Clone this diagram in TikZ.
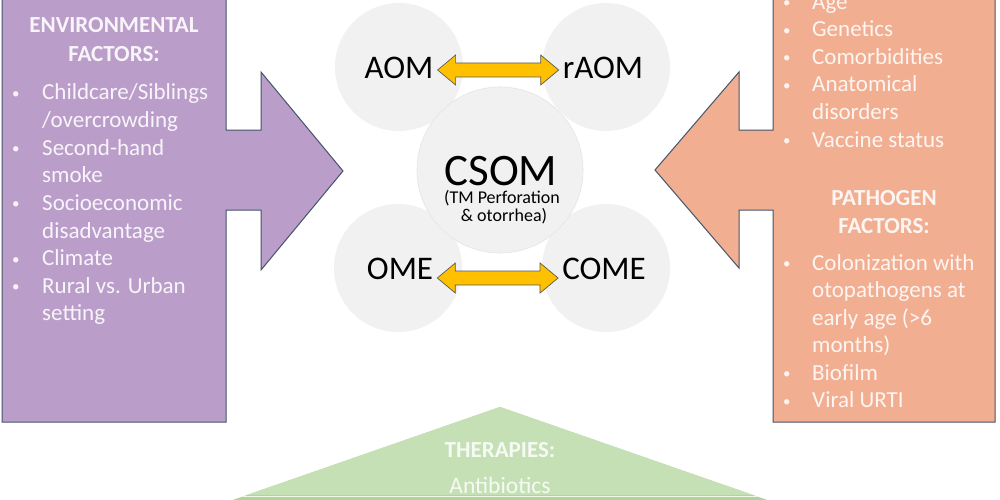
\documentclass[tikz,border=0pt]{standalone}
\usepackage{fontspec}
\setmainfont{Carlito}
\usetikzlibrary{calc}
\definecolor{purp}{RGB}{187,157,202}
\definecolor{salm}{RGB}{242,174,145}
\definecolor{edgec}{RGB}{68,84,106}
\definecolor{circ}{RGB}{241,241,241}
\definecolor{circedge}{RGB}{228,228,228}
\definecolor{gra}{RGB}{197,224,180}
\definecolor{grb}{RGB}{176,212,150}
\definecolor{yel}{RGB}{255,192,0}
\definecolor{arredge}{RGB}{90,90,90}
\newcommand\fatarrow[3]{%
  \draw[yarrow] let \p1=(#1.east), \p2=(#2.west) in
    (\x1+3pt,\y1-#3pt) -- (\x1+21pt,\y1-#3pt+15pt) -- (\x1+21pt,\y1-#3pt+7pt)
    -- (\x2-21pt,\y1-#3pt+7pt) -- (\x2-21pt,\y1-#3pt+15pt) -- (\x2-3pt,\y1-#3pt)
    -- (\x2-21pt,\y1-#3pt-15pt) -- (\x2-21pt,\y1-#3pt-7pt)
    -- (\x1+21pt,\y1-#3pt-7pt) -- (\x1+21pt,\y1-#3pt-15pt) -- cycle;}
\newcommand\bul[1]{\makebox[#1][l]{\raisebox{1.5pt}{\fontsize{15}{15}\selectfont •}}}
\begin{document}
\begin{tikzpicture}[x=1pt,y=-1pt,
  bigshape/.style={draw=edgec, line width=1pt, line join=miter},
  bub/.style={circle, fill=circ, inner sep=0pt, minimum size=128pt},
  lbl/.style={inner sep=1pt, font=\fontsize{33}{36}\selectfont, text=black},
  yarrow/.style={fill=yel, draw=arredge, line width=0.7pt, line join=miter},
  ptxt/.style={anchor=base west, inner sep=0pt, text=white!90!purp, font=\fontsize{23}{28}\selectfont},
  phead/.style={anchor=base, inner sep=0pt, text=white!90!purp, font=\fontsize{23}{28}\selectfont\bfseries},
  otxt/.style={anchor=base west, inner sep=0pt, text=white!88!salm, font=\fontsize{23}{28}\selectfont},
  ohead/.style={anchor=base, inner sep=0pt, text=white!88!salm, font=\fontsize{23}{28}\selectfont\bfseries},
  gtxt/.style={anchor=base, inner sep=0pt, text=white!85!gra, font=\fontsize{23.5}{28}\selectfont},
]
\useasboundingbox (0,0) rectangle (1000,500);
\clip (0,0) rectangle (1000,500);
\fill[white] (0,0) rectangle (1000,500);

% green pyramid
\fill[grb] (500,407) -- (204,510) -- (796,510) -- cycle;
\fill[gra] (500,407) -- (247,495) -- (753,495) -- cycle;
\draw[white, line width=1.6pt, opacity=0.8] (243,496.5) -- (757,496.5);
\node[phead, text=white!85!gra, font=\fontsize{23}{28}\selectfont\bfseries] (ther) at (500,457) {THERAPIES:};
\node[gtxt] (anti) at (500,493) {Antibiotics};

% left purple arrow box
\draw[bigshape, fill=purp] (2,-10) -- (226,-10) -- (226,130) -- (261,130) -- (261,72)
  -- (343,171) -- (261,270) -- (261,210) -- (226,210) -- (226,422) -- (2,422) -- cycle;
% right salmon arrow box
\draw[bigshape, fill=salm] (995,-10) -- (773,-10) -- (773,130) -- (739,130) -- (739,72)
  -- (655,170) -- (739,268) -- (739,210) -- (773,210) -- (773,422) -- (995,422) -- cycle;

% left text
\node[phead] (envA) at (114,33) {ENVIRONMENTAL};
\node[phead] (envB) at (114,62) {FACTORS:};
\node[ptxt] (l1) at (12,100) {\bul{30pt}Childcare/Siblings};
\node[ptxt] (l2) at (42,127.6) {/overcrowding};
\node[ptxt] (l3) at (12,155.2) {\bul{30pt}Second-hand};
\node[ptxt] (l4) at (42,182.8) {smoke};
\node[ptxt] (l5) at (12,210.4) {\bul{30pt}Socioeconomic};
\node[ptxt] (l6) at (42,238) {disadvantage};
\node[ptxt] (l7) at (12,265.6) {\bul{30pt}Climate};
\node[ptxt] (l8) at (12,293.2) {\bul{30pt}Rural vs. Urban};
\node[ptxt] (l9) at (42,320.8) {setting};

% right text
\node[otxt] (r1) at (783,9.5) {\bul{29pt}Age};
\node[otxt] (r2) at (783,37) {\bul{29pt}Genetics};
\node[otxt] (r3) at (783,64.5) {\bul{29pt}Comorbidities};
\node[otxt] (r4) at (783,92) {\bul{29pt}Anatomical};
\node[otxt] (r5) at (812,119.5) {disorders};
\node[otxt] (r6) at (783,147) {\bul{29pt}Vaccine status};
\node[ohead] (patA) at (884,205) {PATHOGEN};
\node[ohead] (patB) at (884,233) {FACTORS:};
\node[otxt] (r7) at (783,270) {\bul{29pt}Colonization with};
\node[otxt] (r8) at (812,297.5) {otopathogens at};
\node[otxt] (r9) at (812,325) {early age (>6};
\node[otxt] (r10) at (812,352.5) {months)};
\node[otxt] (r11) at (783,380) {\bul{29pt}Biofilm};
\node[otxt] (r12) at (783,407.5) {\bul{29pt}Viral URTI};

% circles
\node[bub] (caom) at (399,67) {};
\node[bub] (craom) at (606,67) {};
\node[bub] (come) at (398,268) {};
\node[bub] (ccome) at (606,268) {};
\node[bub, minimum size=166pt, draw=circedge, line width=0.6pt] (ccsom) at (500,170) {};

% labels
\node[lbl] (aom) at (399,68) {AOM};
\node[lbl] (raom) at (603,68) {rAOM};
\node[lbl] (ome) at (400,269) {OME};
\node[lbl] (cme) at (604,269) {COME};
\node[inner sep=0pt, font=\fontsize{45}{48}\selectfont] (csom) at (501,171) {CSOM};
\node[anchor=base, inner sep=0pt, font=\fontsize{18}{20}\selectfont] (csomA) at (502,203) {(TM Perforation};
\node[anchor=base, inner sep=0pt, font=\fontsize{18}{20}\selectfont] (csomB) at (504,221) {\& otorrhea)};

% yellow double arrows
\fatarrow{aom}{raom}{2}
\fatarrow{ome}{cme}{9}
\end{tikzpicture}
\end{document}
